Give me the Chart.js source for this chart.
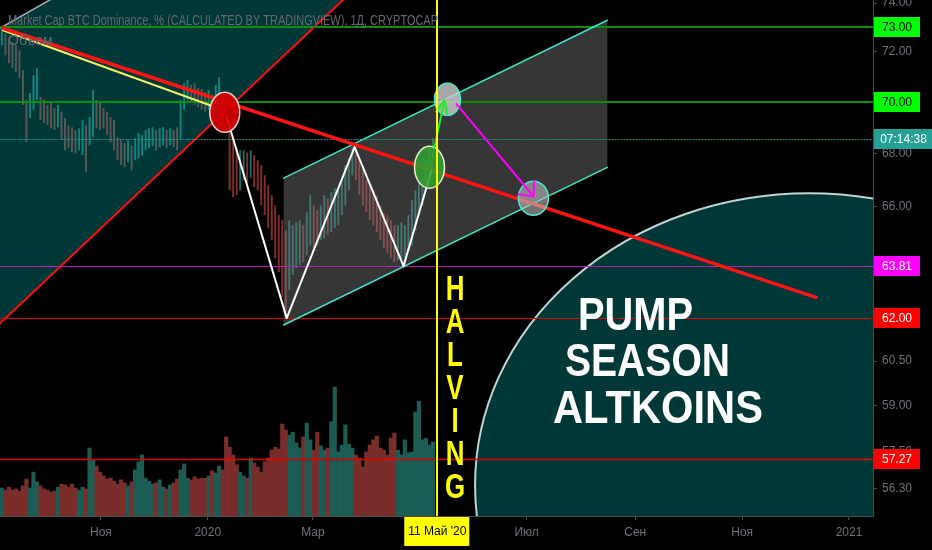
<!DOCTYPE html>
<html>
<head>
<meta charset="utf-8">
<script src="https://cdn.jsdelivr.net/npm/chart.js@4.4.1/dist/chart.umd.min.js"></script>
<style>
  html, body { margin: 0; padding: 0; background: #000; }
  canvas { display: block; }
</style>
</head>
<body>
<canvas id="chart" width="932" height="550"></canvas>
<script>
// BTC dominance, 2-day bars; day numbers count from 1 Jan 2020
const firstDay = -117.5;
const stepDays = 2;
const highs = [
  72.96, 72.75, 72.55, 72.39, 72.27, 72.06, 71.26, 70.08, 70.35, 71.06,
  71.34, 70.20, 70.08, 69.88, 69.96, 69.76, 69.88, 69.61, 69.37, 69.09,
  69.01, 68.90, 68.97, 69.29, 69.09, 69.41, 70.47, 70.08, 70.00, 69.76,
  69.61, 69.41, 69.29, 68.63, 68.51, 68.39, 68.51, 68.31, 68.59, 68.78,
  68.70, 68.90, 68.97, 69.01, 68.90, 68.97, 69.01, 68.90, 68.97, 68.90,
  69.01, 70.08, 70.74, 70.86, 70.67, 70.74, 70.55, 70.51, 70.39, 70.47,
  70.28, 70.67, 70.98, 70.28, 70.08, 69.09, 68.51, 68.24, 68.12, 68.12,
  68.04, 68.12, 67.93, 67.74, 67.55, 67.17, 66.79, 66.42, 66.04, 65.68,
  65.49, 65.12, 65.49, 65.31, 65.42, 65.49, 65.31, 65.79, 66.42, 66.04,
  65.86, 66.04, 66.42, 66.30, 66.53, 66.68, 66.60, 66.98, 67.55, 67.81,
  68.24, 68.12, 67.81, 67.36, 66.98, 66.79, 66.60, 66.42, 66.04, 65.75,
  65.68, 65.49, 65.31, 65.31, 65.42, 65.31, 65.68, 66.23, 66.60, 66.98,
  67.17, 67.74, 68.31, 68.59
];
const lows = [
  72.27, 71.86, 71.54, 71.34, 71.18, 70.94, 69.88, 68.43, 69.37, 69.69,
  70.08, 69.29, 69.17, 69.09, 68.97, 68.90, 69.01, 68.51, 68.12, 68.20,
  68.04, 68.00, 68.12, 67.93, 67.28, 68.31, 68.63, 68.97, 68.90, 68.97,
  68.70, 68.43, 68.12, 67.74, 67.55, 67.47, 67.66, 67.36, 67.74, 67.81,
  67.93, 68.12, 68.20, 68.28, 68.12, 68.24, 68.31, 68.20, 68.31, 68.24,
  68.12, 68.51, 69.69, 70.08, 69.96, 69.88, 69.80, 69.69, 69.61, 69.69,
  69.49, 69.61, 69.69, 69.09, 68.90, 66.60, 66.34, 66.42, 66.60, 66.98,
  66.87, 67.06, 66.72, 66.60, 66.04, 65.68, 65.20, 64.76, 64.10, 63.61,
  62.72, 62.19, 62.97, 63.50, 63.75, 63.85, 63.96, 64.21, 64.57, 64.46,
  64.57, 64.76, 64.83, 64.94, 65.05, 65.20, 65.31, 65.68, 66.04, 66.60,
  67.17, 66.98, 66.42, 66.04, 65.79, 65.49, 65.31, 65.05, 64.76, 64.46,
  64.28, 64.10, 63.96, 64.03, 63.96, 64.10, 64.39, 64.57, 65.12, 65.68,
  66.04, 66.60, 67.17, 67.74
];
const volumes = [
  6.5, 6.0, 6.7, 6.0, 6.3, 5.8, 7.0, 8.6, 6.5, 10.2,
  7.9, 7.0, 6.3, 6.0, 5.6, 5.8, 6.7, 7.4, 7.2, 6.7,
  7.4, 6.5, 6.0, 6.7, 6.3, 15.8, 13.0, 11.6, 10.2, 9.3,
  8.6, 8.8, 8.1, 7.4, 8.4, 7.7, 7.0, 7.9, 10.7, 12.6,
  14.2, 8.8, 8.1, 7.4, 7.7, 8.4, 6.7, 6.3, 7.2, 7.7,
  8.6, 10.7, 12.1, 8.8, 8.4, 9.1, 8.6, 8.8, 8.8, 9.3,
  10.5, 10.0, 11.6, 10.7, 18.4, 16.0, 14.2, 11.9, 10.2, 9.3,
  8.8, 13.5, 12.3, 11.4, 10.2, 12.6, 13.5, 15.3, 16.0, 15.6,
  21.4, 20.0, 18.8, 19.5, 17.0, 15.8, 18.4, 21.6, 17.7, 15.3,
  19.5, 16.3, 15.3, 15.8, 21.9, 30.0, 14.9, 16.5, 21.2, 16.7,
  15.8, 14.2, 13.5, 11.4, 14.9, 16.5, 17.7, 18.6, 15.8, 15.3,
  14.2, 18.1, 19.3, 15.3, 14.2, 17.7, 14.7, 14.9, 24.2, 26.7,
  17.7, 18.1, 16.5, 17.2
];

const tickDays = [-61, 0, 60, 182, 244, 305, 366];
const tickNames = ['Ноя', '2020', 'Мар', 'Июл', 'Сен', 'Ноя', '2021'];
const priceTicks = [74, 72, 70, 68, 66, 62, 60.5, 59, 57.5, 56.3];

// drawings, as [day, value]
const levels = [73, 70, 63.81, 62, 57.27];
const countdownPrice = 68.55;
const halvingDay = 131;
const trendRed = [[-116.9, 72.96], [347.2, 62.71]];
const trendYellow = [[-116.9, 72.88], [2.85, 69.83]];
const wedgeTop = [[-130, 72.51], [-84.4, 74.37]];
const wedgeEdge = [[98.1, 75.59], [-130, 61.15]];
const channelUpper = [[43.3, 67.06], [228.05, 73.29]];
const channelLower = [[43.3, 61.74], [228.05, 67.47]];
const zigzag = [[10.83, 69.40], [45.04, 61.98], [83.81, 68.24], [111.74, 63.82], [127.7, 67.36]];
const greenArrow = [[129.4, 68.24], [135.1, 70.06]];
const pinkArrow = [[141.96, 69.91], [185.86, 66.38]];
const circleRed = [9.69, 69.59];
const circleGreen = [126.57, 67.47];
const circleGreyA = [136.83, 70.10];
const circleGreyB = [185.86, 66.31];
const bigCircle = [343.2, 56.42];

const FONT = '"Liberation Sans", Arial, sans-serif';
const AXIS = '#4a4a4a';
const LABEL = '#6f727b';

const isUp = i => i === 0 || highs[i] + lows[i] >= highs[i - 1] + lows[i - 1];

function pt(chart, p) {
  return [chart.scales.x.getPixelForValue(p[0]), chart.scales.y.getPixelForValue(p[1])];
}
function path(ctx, chart, pts) {
  ctx.beginPath();
  pts.forEach((p, i) => {
    const [x, y] = pt(chart, p);
    if (i) ctx.lineTo(x, y); else ctx.moveTo(x, y);
  });
}
function stroke(ctx, chart, pts, color, width) {
  path(ctx, chart, pts);
  ctx.strokeStyle = color;
  ctx.lineWidth = width;
  ctx.stroke();
}
function hLine(ctx, chart, v, color, width, dash) {
  const y = Math.round(chart.scales.y.getPixelForValue(v)) + (width % 2 ? 0.5 : 0);
  ctx.beginPath();
  ctx.moveTo(chart.chartArea.left, y);
  ctx.lineTo(chart.chartArea.right, y);
  ctx.strokeStyle = color;
  ctx.lineWidth = width;
  ctx.setLineDash(dash || []);
  ctx.stroke();
  ctx.setLineDash([]);
}
function arrow(ctx, chart, pts, color, len, spread) {
  stroke(ctx, chart, pts, color, 2);
  const [x0, y0] = pt(chart, pts[0]);
  const [x1, y1] = pt(chart, pts[1]);
  const a = Math.atan2(y1 - y0, x1 - x0);
  ctx.beginPath();
  [-spread, spread].forEach(s => {
    ctx.moveTo(x1, y1);
    ctx.lineTo(x1 - len * Math.cos(a + s), y1 - len * Math.sin(a + s));
  });
  ctx.stroke();
}
function ellipse(ctx, chart, c, rx, ry, fill, line, width) {
  const [x, y] = pt(chart, c);
  ctx.beginPath();
  ctx.ellipse(x, y, rx, ry, 0, 0, Math.PI * 2);
  ctx.fillStyle = fill;
  ctx.fill();
  ctx.strokeStyle = line;
  ctx.lineWidth = width || 1.5;
  ctx.stroke();
}
function fitText(ctx, text, x, y, font, width, color) {
  ctx.save();
  ctx.font = font;
  ctx.fillStyle = color;
  ctx.textAlign = 'left';
  ctx.textBaseline = 'alphabetic';
  const w = ctx.measureText(text).width;
  ctx.translate(x, y);
  ctx.scale(width / w, 1);
  ctx.fillText(text, 0, 0);
  ctx.restore();
}
function clipArea(ctx, chart) {
  const a = chart.chartArea;
  ctx.save();
  ctx.beginPath();
  ctx.rect(a.left, a.top, a.right - a.left, a.bottom - a.top);
  ctx.clip();
}

const drawings = {
  id: 'drawings',
  beforeDatasetsDraw(chart) {
    const ctx = chart.ctx;
    clipArea(ctx, chart);
    ellipse(ctx, chart, bigCircle, 334, 292, 'rgba(0,187,187,0.3)', 'rgba(215,232,232,0.9)', 2);
    ctx.restore();
  },
  afterDatasetsDraw(chart) {
    const ctx = chart.ctx;
    clipArea(ctx, chart);
    ctx.lineCap = 'round';

    // teal wedge on the left
    path(ctx, chart, [wedgeTop[0], wedgeTop[1], wedgeEdge[0], wedgeEdge[1]]);
    ctx.closePath();
    ctx.fillStyle = 'rgba(0,187,187,0.3)';
    ctx.fill();
    stroke(ctx, chart, wedgeTop, 'rgba(200,200,200,0.85)', 1.5);
    stroke(ctx, chart, wedgeEdge, '#ff0d0d', 2);

    // grey rising channel
    path(ctx, chart, [channelUpper[0], channelUpper[1], channelLower[1], channelLower[0]]);
    ctx.closePath();
    ctx.fillStyle = 'rgba(128,128,128,0.42)';
    ctx.fill();

    hLine(ctx, chart, levels[0], '#0b8f0b', 2);
    hLine(ctx, chart, levels[1], '#0b8f0b', 2);
    hLine(ctx, chart, countdownPrice, '#22968c', 1, [1, 2]);
    hLine(ctx, chart, levels[2], '#b024b0', 1);
    hLine(ctx, chart, levels[3], '#dc0000', 1);
    hLine(ctx, chart, levels[4], '#dc0000', 1.4);

    stroke(ctx, chart, channelUpper, '#3ee6c8', 1.5);
    stroke(ctx, chart, channelLower, '#3ee6c8', 1.5);

    stroke(ctx, chart, trendYellow, '#eef26a', 2);
    stroke(ctx, chart, trendRed, '#ff1414', 3.5);
    ctx.lineJoin = 'round';
    stroke(ctx, chart, zigzag, '#ffffff', 2);

    ellipse(ctx, chart, circleRed, 15, 20, 'rgba(214,0,0,0.93)', 'rgba(255,225,225,0.9)');
    ellipse(ctx, chart, circleGreen, 15, 21, 'rgba(48,160,48,0.88)', 'rgba(240,245,210,0.95)');
    ellipse(ctx, chart, circleGreyA, 13, 16, 'rgba(205,205,205,0.82)', '#4ee6d0');
    ellipse(ctx, chart, circleGreyB, 15, 17, 'rgba(185,185,185,0.62)', '#4ee6d0');

    arrow(ctx, chart, greenArrow, '#1ef01e', 14, 0.42);
    arrow(ctx, chart, pinkArrow, '#ff00ff', 15, 0.75);

    const hx = Math.round(chart.scales.x.getPixelForValue(halvingDay));
    ctx.beginPath();
    ctx.moveTo(hx, chart.chartArea.top);
    ctx.lineTo(hx, chart.chartArea.bottom);
    ctx.strokeStyle = '#ffff00';
    ctx.lineWidth = 2;
    ctx.stroke();

    // captions
    'HALVING'.split('').forEach((ch, i) => {
      ctx.save();
      ctx.font = 'bold 35px ' + FONT;
      ctx.fillStyle = '#ffff00';
      ctx.textAlign = 'center';
      ctx.translate(hx + 18, 300 + i * 33);
      ctx.scale(0.74, 1);
      ctx.fillText(ch, 0, 0);
      ctx.restore();
    });
    fitText(ctx, 'PUMP', 578, 330, 'bold 47px ' + FONT, 115, '#ffffff');
    fitText(ctx, 'SEASON', 565, 376, 'bold 47px ' + FONT, 165, '#ffffff');
    fitText(ctx, 'ALTKOINS', 553, 423, 'bold 47px ' + FONT, 210, '#ffffff');

    fitText(ctx, 'Market Cap BTC Dominance, % (CALCULATED BY TRADINGVIEW), 1Д, CRYPTOCAP',
      8, 25, '15px ' + FONT, 430, '#666973');
    ctx.font = '14px ' + FONT;
    ctx.fillStyle = '#666973';
    ctx.fillText('Объем', 8, 45);
    ctx.restore();
  },
  afterDraw(chart) {
    const ctx = chart.ctx;
    const right = chart.chartArea.right;
    const tags = [
      [levels[0], '73.00', '#00ff00', '#000'],
      [levels[1], '70.00', '#00ff00', '#000'],
      [countdownPrice, '07:14:38', '#24a096', '#fff'],
      [levels[2], levels[2].toFixed(2), '#ff00ff', '#fff'],
      [levels[3], levels[3].toFixed(2), '#ff0000', '#fff'],
      [levels[4], levels[4].toFixed(2), '#ff0000', '#fff']
    ];
    ctx.save();
    ctx.font = '12px ' + FONT;
    ctx.textAlign = 'center';
    ctx.textBaseline = 'middle';
    tags.forEach(([v, text, bg, fg]) => {
      const y = Math.round(chart.scales.y.getPixelForValue(v));
      const w = text.length > 6 ? 932 - right : 46;
      ctx.fillStyle = bg;
      ctx.fillRect(right + 1, y - 10, w, 20);
      ctx.fillStyle = fg;
      ctx.fillText(text, right + 1 + w / 2, y + 1);
    });
    const hx = chart.scales.x.getPixelForValue(halvingDay);
    ctx.fillStyle = '#ffff00';
    ctx.fillRect(hx - 33, chart.chartArea.bottom + 1, 65, 29);
    ctx.fillStyle = '#000';
    ctx.fillText("11 Май '20", hx, chart.chartArea.bottom + 16);
    ctx.restore();
  }
};

Chart.defaults.font.family = FONT;

new Chart(document.getElementById('chart'), {
  type: 'bar',
  data: {
    datasets: [{
      label: 'BTC Dominance',
      data: highs.map((h, i) => ({ x: firstDay + stepDays * i, y: [lows[i], h] })),
      yAxisID: 'y',
      grouped: false,
      barPercentage: 0.55,
      categoryPercentage: 1,
      backgroundColor: c => isUp(c.dataIndex) ? 'rgba(38,166,154,0.65)' : 'rgba(239,83,80,0.55)',
      order: 1
    }, {
      label: 'Объем',
      data: volumes.map((v, i) => ({ x: firstDay + stepDays * i, y: v })),
      yAxisID: 'yv',
      grouped: false,
      barPercentage: 1,
      categoryPercentage: 1,
      backgroundColor: c => isUp(c.dataIndex) ? '#1b5c54' : '#7a2d2a',
      order: 2
    }]
  },
  options: {
    responsive: false,
    animation: false,
    layout: { padding: 0 },
    plugins: {
      legend: { display: false },
      tooltip: { enabled: false }
    },
    scales: {
      x: {
        type: 'linear',
        offset: false,
        min: -118.6,
        max: 379.7,
        grid: { drawOnChartArea: false, offset: false, tickLength: 4, color: AXIS },
        border: { color: AXIS },
        ticks: {
          color: LABEL, font: { size: 12 }, padding: 5, autoSkip: false, maxRotation: 0,
          callback: v => tickNames[tickDays.indexOf(v)]
        },
        afterBuildTicks: s => { s.ticks = tickDays.map(v => ({ value: v })); },
        afterFit: s => { s.height = 34; s.paddingLeft = 0; s.paddingRight = 0; }
      },
      y: {
        type: 'logarithmic',
        position: 'right',
        min: 55.45,
        max: 74.13,
        grid: { drawOnChartArea: false, tickLength: 4, color: AXIS },
        border: { color: AXIS },
        ticks: {
          color: LABEL, font: { size: 12 }, padding: 5, autoSkip: false,
          callback: v => v.toFixed(2)
        },
        afterBuildTicks: s => { s.ticks = priceTicks.map(v => ({ value: v })); },
        afterFit: s => { s.width = 59; s.paddingTop = 0; s.paddingBottom = 0; }
      },
      yv: { type: 'linear', display: false, min: 0, max: 120 }
    }
  },
  plugins: [drawings]
});
</script>
</body>
</html>
